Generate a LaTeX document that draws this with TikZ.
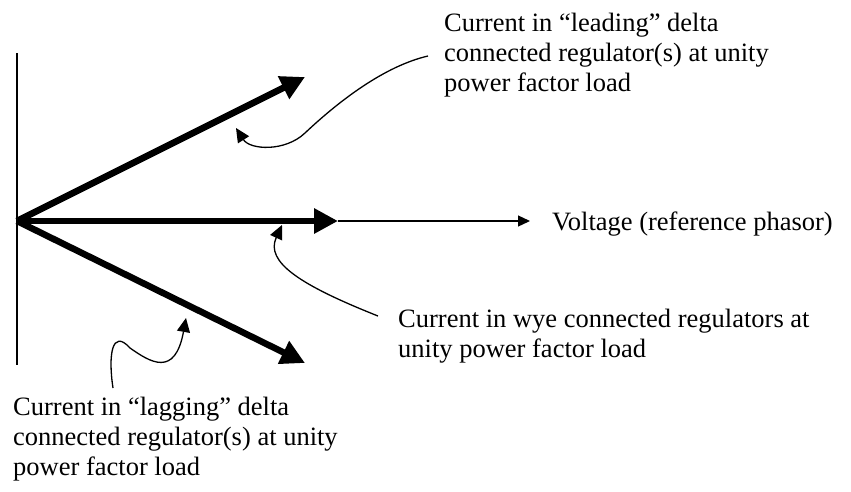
\documentclass[tikz,border=0pt]{standalone}
\usepackage{fontspec}
\setmainfont{Liberation Serif}
\usetikzlibrary{arrows.meta}
\tikzset{
  phasor/.style={line width=6.5pt,-{Triangle[length=24pt,width=24pt]}},
  thinline/.style={line width=1.3pt},
  leader/.style={line width=1.3pt,-{Triangle[length=14pt,width=13pt]}},
  label/.style={anchor=base west,inner sep=0pt,align=left,font=\fontsize{26.5}{30}\selectfont}
}
\begin{document}
\begin{tikzpicture}[x=1pt,y=-1pt]
\useasboundingbox (0,0) rectangle (851,491);
% axis
\coordinate (axtop) at (17,53);
\coordinate (axbot) at (17,365);
\draw[thinline] (axtop) -- (axbot);
% phasors
\coordinate (O) at (17,221);
\coordinate (lead) at (305,77);
\coordinate (lag) at (305,363);
\coordinate (wye) at (338,221);
\coordinate (vtip) at (530,221);
\draw[thinline,-{Triangle[length=12pt,width=11pt]}] (wye) -- (vtip);
\draw[phasor] (O) -- (lead);
\draw[phasor] (O) -- (lag);
\draw[phasor] (O) -- (wye);
% labels (anchor is the baseline of the last line)
\node[label] (tlead) at (444,91) {Current in “leading” delta\\connected regulator(s) at unity\\power factor load};
\node[label] (tvolt) at (552,230) {Voltage (reference phasor)};
\node[label] (twye) at (398,357) {Current in wye connected regulators at\\unity power factor load};
\node[label] (tlag) at (13,475) {Current in “lagging” delta\\connected regulator(s) at unity\\power factor load};
% leaders
\coordinate (l1s) at (428,56);
\coordinate (l1m) at (305,133);
\coordinate (l1e) at (236,128);
\draw[leader] (l1s) .. controls (385,66) and (340,100) .. (l1m)
  .. controls (285,152) and (250,150) .. (l1e);
\coordinate (l2s) at (378,316);
\coordinate (l2e) at (282,225);
\draw[leader] (l2s) .. controls (300,285) and (265,262) .. (l2e);
\coordinate (l3s) at (113,388);
\coordinate (l3m) at (130,348);
\coordinate (l3e) at (186,318);
\draw[leader] (l3s) .. controls (108,355) and (112,328) .. (l3m)
  .. controls (150,362) and (175,378) .. (l3e);
\end{tikzpicture}
\end{document}
